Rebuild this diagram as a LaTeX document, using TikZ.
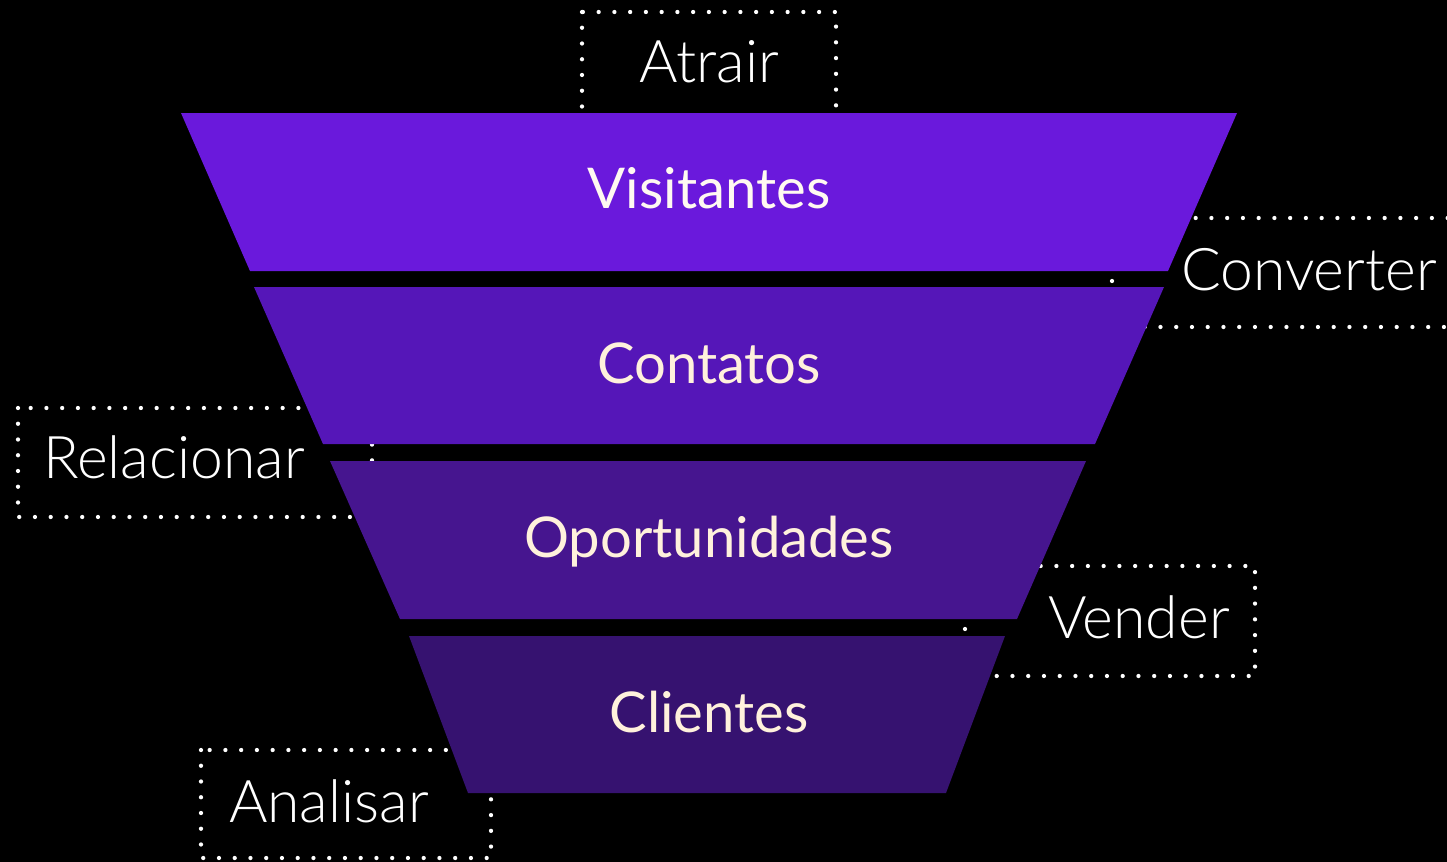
\documentclass[tikz,border=0pt]{standalone}
\usepackage{fontspec}
\setmainfont{Lato}
\newfontfamily\thinfont{Lato Light}
\definecolor{stepone}{HTML}{6A19DC}
\definecolor{steptwo}{HTML}{5516B8}
\definecolor{stepthree}{HTML}{46158F}
\definecolor{stepfour}{HTML}{361270}
\definecolor{cream}{HTML}{FFF1DC}
\begin{document}
\begin{tikzpicture}[x=0.02cm,y=-0.02cm,
    dotbox/.style={draw=white,line width=0.085cm,line cap=round,dash pattern=on 0pt off 0.315cm},
    funtext/.style={anchor=base,text=cream,font=\fontsize{32}{38}\selectfont},
    boxtext/.style={anchor=base,text=white,font=\thinfont\fontsize{33.5}{40}\selectfont}]
        \clip (0,0) rectangle (1447,862);
        \fill[black] (0,0) rectangle (1447,862);
        % dotted boxes behind the funnel
        \draw[dotbox] (582,12) rectangle (836,160);
        \draw[dotbox] (1112,218) rectangle (1470,327);
        \draw[dotbox] (18,408) rectangle (372,517);
        \draw[dotbox] (965,566) rectangle (1255,676);
        \draw[dotbox] (201,750) rectangle (491,858);
        % funnel
        \fill[stepone] (181,113) -- (1237,113) -- (1168,271) -- (250,271) -- cycle;
        \fill[steptwo] (254,287) -- (1164,287) -- (1095,444) -- (323,444) -- cycle;
        \fill[stepthree] (330,461) -- (1086,461) -- (1017,619) -- (400,619) -- cycle;
        \fill[stepfour] (409,636) -- (1005,636) -- (946,793) -- (468,793) -- cycle;
        \node[funtext,text=cream!40!white] (visit) at (709,208) {Visitantes};
        \node[funtext] (contact) at (709,383) {Contatos};
        \node[funtext] (oppor) at (709,557) {Oportunidades};
        \node[funtext] (client) at (709,732) {Clientes};
        % stage labels
        \node[boxtext] (attract) at (709,82) {Atrair};
        \node[boxtext] (convert) at (1309,290) {Converter};
        \node[boxtext] (relate) at (174,478) {Relacionar};
        \node[boxtext] (sell) at (1139,638) {Vender};
        \node[boxtext] (analyse) at (329,822) {Analisar};
    \end{tikzpicture}
\end{document}
